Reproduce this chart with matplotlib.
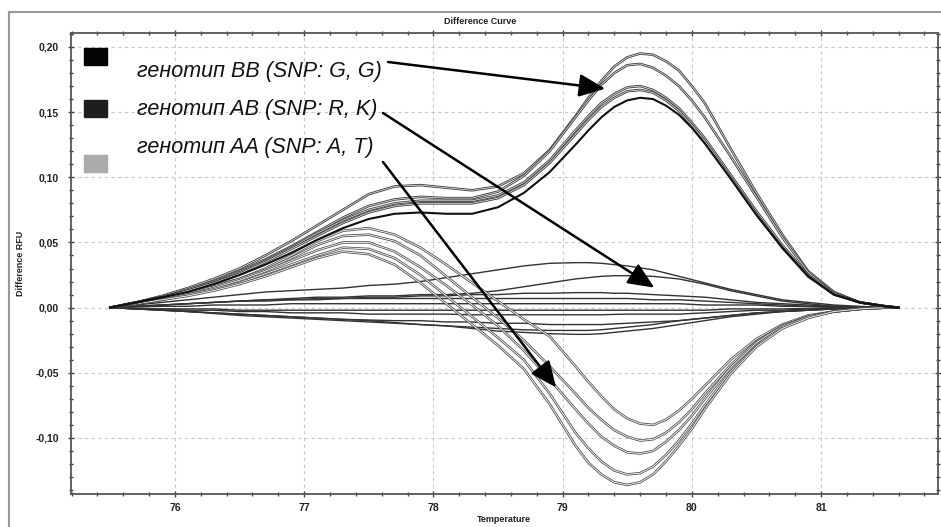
import numpy as np
import matplotlib.pyplot as plt
from matplotlib.lines import Line2D
from matplotlib.patches import Rectangle
from matplotlib.ticker import MultipleLocator, FuncFormatter

# temperature grid the curves were read at (finer around the peaks)
temps = [75.5, 75.7, 75.9, 76.1, 76.3, 76.5, 76.7, 76.9, 77.1, 77.3, 77.5, 77.7, 77.9, 78.1, 78.3, 78.5, 78.7, 78.9,
         79.1, 79.2, 79.3, 79.4, 79.5, 79.6, 79.7, 79.8, 79.9, 80.0, 80.1,
         80.3, 80.5, 80.7, 80.9, 81.1, 81.3, 81.5, 81.6]

# genotype BB (upper curves)
bb_1 = [0, 0.004, 0.009, 0.015, 0.022, 0.030, 0.040, 0.051, 0.063, 0.075, 0.087, 0.093, 0.094, 0.092, 0.090, 0.093,
        0.103, 0.121, 0.147, 0.161, 0.174, 0.185, 0.192, 0.195, 0.194, 0.189, 0.182, 0.170, 0.157,
        0.122, 0.088, 0.056, 0.028, 0.012, 0.004, 0.001, 0]
bb_2 = [0, 0.004, 0.008, 0.014, 0.020, 0.028, 0.037, 0.047, 0.058, 0.069, 0.078, 0.083, 0.085, 0.084, 0.084, 0.089,
        0.101, 0.120, 0.146, 0.159, 0.171, 0.180, 0.186, 0.187, 0.184, 0.178, 0.170, 0.159, 0.146,
        0.116, 0.085, 0.054, 0.027, 0.011, 0.004, 0.001, 0]
bb_3 = [0, 0.004, 0.008, 0.013, 0.019, 0.027, 0.036, 0.046, 0.057, 0.067, 0.075, 0.080, 0.082, 0.082, 0.082, 0.086,
        0.096, 0.113, 0.136, 0.147, 0.157, 0.164, 0.169, 0.170, 0.167, 0.161, 0.153, 0.142, 0.130,
        0.102, 0.074, 0.048, 0.025, 0.011, 0.004, 0.001, 0]
bb_4 = [0, 0.004, 0.008, 0.013, 0.019, 0.026, 0.035, 0.045, 0.055, 0.065, 0.073, 0.078, 0.080, 0.080, 0.080, 0.084,
        0.094, 0.111, 0.133, 0.144, 0.154, 0.161, 0.166, 0.167, 0.165, 0.159, 0.151, 0.140, 0.128,
        0.100, 0.072, 0.046, 0.024, 0.010, 0.004, 0.001, 0]
bb_5 = [0, 0.004, 0.008, 0.012, 0.018, 0.025, 0.033, 0.042, 0.052, 0.061, 0.068, 0.072, 0.073, 0.072, 0.072, 0.077,
        0.088, 0.104, 0.125, 0.136, 0.146, 0.154, 0.159, 0.161, 0.160, 0.155, 0.148, 0.138, 0.126,
        0.099, 0.071, 0.046, 0.024, 0.010, 0.004, 0.001, 0]

# genotype AA (lower curves)
aa_1 = [0, 0.003, 0.007, 0.012, 0.017, 0.022, 0.030, 0.040, 0.051, 0.059, 0.061, 0.056, 0.046, 0.033, 0.019, 0.005,
        -0.009, -0.022, -0.045, -0.057, -0.068, -0.078, -0.085, -0.089, -0.090, -0.086, -0.079, -0.070, -0.060,
        -0.040, -0.024, -0.013, -0.006, -0.003, -0.001, 0, 0]
aa_2 = [0, 0.003, 0.007, 0.011, 0.016, 0.022, 0.029, 0.038, 0.048, 0.055, 0.056, 0.051, 0.040, 0.024, 0.008, -0.008,
        -0.025, -0.045, -0.066, -0.077, -0.086, -0.094, -0.099, -0.102, -0.101, -0.096, -0.088, -0.078, -0.066,
        -0.044, -0.026, -0.014, -0.007, -0.003, -0.001, 0, 0]
aa_3 = [0, 0.003, 0.006, 0.010, 0.015, 0.021, 0.028, 0.036, 0.044, 0.050, 0.050, 0.043, 0.031, 0.017, 0.002, -0.014,
        -0.033, -0.055, -0.078, -0.089, -0.099, -0.106, -0.111, -0.112, -0.110, -0.103, -0.094, -0.083, -0.070,
        -0.046, -0.027, -0.014, -0.007, -0.003, -0.001, 0, 0]
aa_4 = [0, 0.003, 0.006, 0.010, 0.014, 0.019, 0.026, 0.033, 0.040, 0.046, 0.045, 0.038, 0.025, 0.009, -0.007, -0.023,
        -0.040, -0.066, -0.096, -0.108, -0.118, -0.125, -0.128, -0.127, -0.122, -0.113, -0.102, -0.089, -0.075,
        -0.049, -0.029, -0.015, -0.007, -0.003, -0.001, 0, 0]
aa_5 = [0, 0.003, 0.006, 0.009, 0.013, 0.018, 0.024, 0.031, 0.038, 0.043, 0.041, 0.033, 0.019, 0.003, -0.013, -0.029,
        -0.047, -0.074, -0.106, -0.119, -0.128, -0.134, -0.136, -0.134, -0.128, -0.118, -0.106, -0.093, -0.078,
        -0.051, -0.030, -0.016, -0.008, -0.003, -0.001, 0, 0]

# genotype AB (flat curves around zero)
ab_1 = [0, 0.002, 0.004, 0.006, 0.008, 0.010, 0.012, 0.013, 0.014, 0.015, 0.017, 0.018, 0.020, 0.023, 0.026, 0.029,
        0.032, 0.034, 0.0345, 0.0345, 0.034, 0.033, 0.032, 0.0305, 0.029, 0.0265, 0.024, 0.0215, 0.019,
        0.014, 0.010, 0.006, 0.004, 0.002, 0.001, 0, 0]
ab_2 = [0, 0.001, 0.002, 0.003, 0.004, 0.005, 0.006, 0.007, 0.008, 0.008, 0.009, 0.009, 0.010, 0.010, 0.011, 0.013,
        0.016, 0.019, 0.022, 0.023, 0.024, 0.0245, 0.0245, 0.0243, 0.024, 0.023, 0.022, 0.020, 0.018,
        0.013, 0.009, 0.005, 0.003, 0.001, 0.0005, 0, 0]
ab_3 = [0, 0.001, 0.002, 0.003, 0.004, 0.005, 0.006, 0.006, 0.007, 0.007, 0.008, 0.008, 0.009, 0.009, 0.010, 0.010,
        0.011, 0.011, 0.0115, 0.0115, 0.0115, 0.011, 0.011, 0.0105, 0.010, 0.0095, 0.009, 0.0085, 0.008,
        0.006, 0.004, 0.003, 0.002, 0.001, 0, 0, 0]
ab_4 = [0, 0.001, 0.002, 0.003, 0.004, 0.005, 0.005, 0.006, 0.006, 0.007, 0.007, 0.007, 0.007, 0.007, 0.007, 0.007,
        0.007, 0.007, 0.007, 0.007, 0.007, 0.007, 0.007, 0.0065, 0.006, 0.006, 0.006, 0.0055, 0.005,
        0.004, 0.003, 0.002, 0.001, 0.001, 0, 0, 0]
ab_5 = [0, 0.0005, 0.001, 0.001, 0.002, 0.002, 0.002, 0.003, 0.003, 0.003, 0.003, 0.003, 0.003, 0.003, 0.003, 0.003,
        0.003, 0.003, 0.003, 0.003, 0.003, 0.003, 0.003, 0.003, 0.003, 0.003, 0.003, 0.0025, 0.002,
        0.002, 0.002, 0.001, 0.001, 0.0005, 0, 0, 0]
ab_6 = [0, -0.0005, -0.001, -0.001, -0.001, -0.002, -0.002, -0.002, -0.002, -0.002, -0.002, -0.002, -0.002, -0.002,
        -0.002, -0.002, -0.002, -0.002, -0.002, -0.002, -0.002, -0.002, -0.002, -0.002, -0.002, -0.002, -0.002, -0.002,
        -0.002, -0.001, -0.001, -0.001, -0.0005, 0, 0, 0, 0]
ab_7 = [0, -0.001, -0.001, -0.002, -0.002, -0.003, -0.003, -0.004, -0.004, -0.004, -0.005, -0.005, -0.005, -0.005,
        -0.0055, -0.0055, -0.0055, -0.0055, -0.0055, -0.0055, -0.0055, -0.0052, -0.005, -0.005, -0.005, -0.005, -0.005,
        -0.0045, -0.004, -0.003, -0.002, -0.002, -0.001, -0.0005, 0, 0, 0]
ab_8 = [0, -0.001, -0.002, -0.003, -0.004, -0.005, -0.006, -0.007, -0.008, -0.009, -0.0095, -0.010, -0.010, -0.011,
        -0.011, -0.012, -0.012, -0.013, -0.013, -0.013, -0.013, -0.0125, -0.012, -0.0115, -0.011, -0.0105, -0.010,
        -0.009, -0.008, -0.006, -0.004, -0.003, -0.002, -0.001, -0.0005, 0, 0]
ab_9 = [0, -0.001, -0.002, -0.003, -0.004, -0.005, -0.006, -0.007, -0.008, -0.009, -0.010, -0.0115, -0.013, -0.014,
        -0.016, -0.018, -0.019, -0.020, -0.0205, -0.0205, -0.020, -0.019, -0.018, -0.017, -0.016, -0.0145, -0.013,
        -0.0115, -0.010, -0.007, -0.005, -0.003, -0.002, -0.001, -0.0005, 0, 0]
ab_10 = [0, -0.001, -0.002, -0.003, -0.0045, -0.006, -0.007, -0.008, -0.009, -0.010, -0.011, -0.012, -0.013, -0.014,
         -0.015, -0.016, -0.017, -0.0175, -0.0175, -0.0175, -0.017, -0.016, -0.015, -0.014, -0.013, -0.0115, -0.010,
         -0.009, -0.008, -0.006, -0.004, -0.003, -0.002, -0.001, 0, 0, 0]

bb_curves = [bb_1, bb_2, bb_3, bb_4]
aa_curves = [aa_1, aa_2, aa_3, aa_4, aa_5]
ab_curves = [ab_1, ab_2, ab_3, ab_4, ab_5, ab_6, ab_7, ab_8, ab_9, ab_10]

for c in bb_curves + [bb_5] + aa_curves + ab_curves:
    assert len(c) == len(temps)

legend_labels = ["генотип BB (SNP: G, G)", "генотип AB (SNP: R, K)", "генотип AA (SNP: A, T)"]
legend_colors = ["#050505", "#1e1e1e", "#aaaaaa"]
# where each arrow points (temperature, RFU)
arrow_tips = [(79.33, 0.168), (79.71, 0.0153), (78.95, -0.0613)]

W, H = 941, 527
fig = plt.figure(figsize=(W / 100, H / 100), dpi=100)
ax = fig.add_axes([71 / W, 1 - 494 / H, (938 - 71) / W, (494 - 33) / H])

small = dict(family="Liberation Sans", fontsize=6.5, fontweight="bold", color="#222222")

for ys in ab_curves:
    ax.plot(temps, ys, color="#333333", lw=1.0, zorder=2)
for ys in aa_curves:
    ax.plot(temps, ys, color="#505050", lw=1.8, zorder=3)
    ax.plot(temps, ys, color="white", lw=0.6, zorder=3)
for ys in bb_curves:
    ax.plot(temps, ys, color="#3a3a3a", lw=1.8, zorder=4)
    ax.plot(temps, ys, color="#dddddd", lw=0.6, zorder=4)
ax.plot(temps, bb_5, color="#111111", lw=1.5, zorder=4)

ax.set_xlim(75.196, 81.905)
ax.set_ylim(-0.143, 0.2107)
ax.xaxis.set_major_locator(MultipleLocator(1))
ax.xaxis.set_minor_locator(MultipleLocator(0.2))
ax.yaxis.set_major_locator(MultipleLocator(0.05))
ax.yaxis.set_minor_locator(MultipleLocator(0.01))
ax.yaxis.set_major_formatter(FuncFormatter(lambda v, p: f"{v + 0.0:.2f}".replace(".", ",").replace("-0,00", "0,00")))
ax.xaxis.set_major_formatter(FuncFormatter(lambda v, p: f"{v:.0f}"))
ax.tick_params(which="both", direction="inout", top=True, right=True, color="#444444", width=1)
ax.tick_params(which="major", length=5, labelsize=7.5)
ax.tick_params(axis="x", which="major", pad=4)
ax.tick_params(axis="y", which="major", pad=6)
ax.tick_params(which="minor", length=3)
for lab in ax.get_xticklabels() + ax.get_yticklabels():
    lab.set_fontfamily("Liberation Sans")
    lab.set_fontweight("bold")
    lab.set_color("#222222")
ax.grid(True, which="major", ls=(0, (3, 3)), color="#c8c8c8", lw=0.8)
for s in ax.spines.values():
    s.set_color("#555555")
    s.set_linewidth(1.3)

ax.set_ylabel("Difference RFU", labelpad=8, **small)

fig.text(480 / W, 1 - 22 / H, "Difference Curve", ha="center", va="center", **small)
fig.text(504 / W, 1 - 520 / H, "Temperature", ha="center", va="center", **small)

# outer frame of the screenshot
fig.add_artist(Line2D([9 / W, 9 / W], [0, 1 - 12 / H], color="#999999", lw=1.5))
fig.add_artist(Line2D([9 / W, 1], [1 - 12 / H, 1 - 12 / H], color="#999999", lw=1.5))

# legend boxes and text
box_y = [56, 108, 163]
text_y = [72, 109, 148]
arrow_start = [(388, 62), (383, 113), (383, 162)]
for i in range(3):
    fig.add_artist(Rectangle((84 / W, 1 - (box_y[i] + 8.5) / H), 23 / W, 17 / H,
                             transform=fig.transFigure, color=legend_colors[i]))
    fig.text(137 / W, 1 - text_y[i] / H, legend_labels[i], ha="left", va="center",
             family="Liberation Sans", style="italic", fontsize=15.5, color="#111111")
    ax.annotate("", xy=arrow_tips[i], xycoords="data",
                xytext=(arrow_start[i][0], H - arrow_start[i][1]), textcoords="figure pixels",
                arrowprops=dict(arrowstyle="-|>,head_length=0.8,head_width=0.35", color="black",
                                lw=1.8, mutation_scale=20, shrinkA=0, shrinkB=0), zorder=6)

fig.savefig("out.png", dpi=100)
